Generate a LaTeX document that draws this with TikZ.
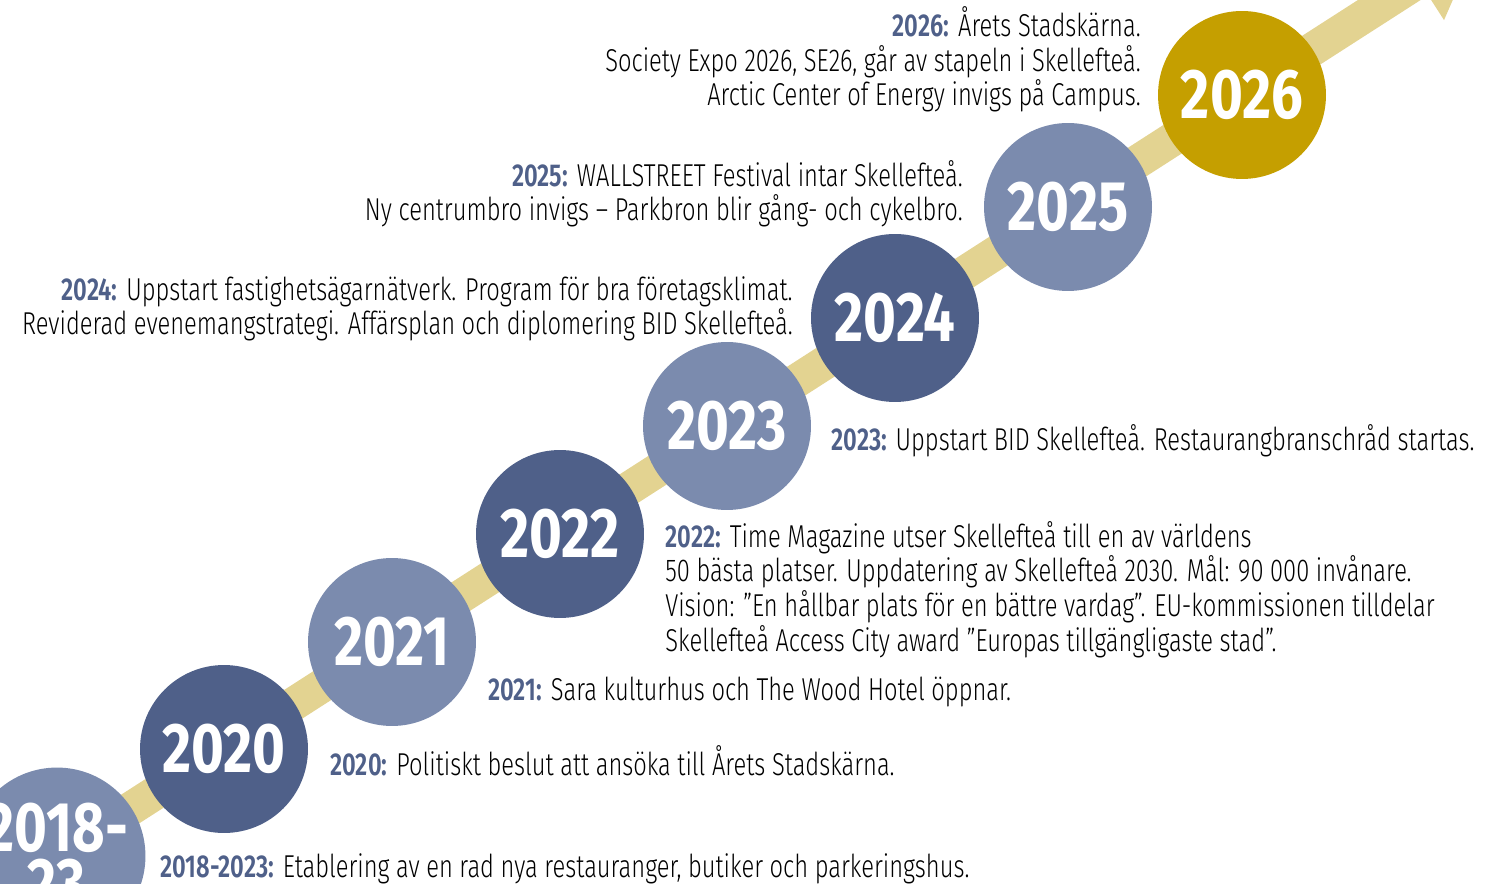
\documentclass[tikz,border=0pt]{standalone}
\usepackage{fontspec}
\setmainfont{Fira Sans Light}[FakeStretch=0.75,BoldFont={Fira Sans SemiBold}]
\newfontfamily\ballfont{Fira Sans}[FakeStretch=0.8]
\usetikzlibrary{arrows.meta}
\definecolor{darkyr}{HTML}{4F6089}
\definecolor{lightyr}{HTML}{7B8BAE}
\definecolor{goldyr}{HTML}{C59F00}
\definecolor{band}{HTML}{E3D391}
\newcommand{\yr}[1]{{\bfseries\color{darkyr}#1}}
\tikzset{
  yearball/.style={circle,minimum size=3.36cm,inner sep=0,text=white,
    font=\ballfont\fontsize{40}{32}\selectfont\bfseries,align=center},
  note/.style={inner sep=0,font=\fontsize{18}{19.7}\selectfont}
}
\begin{document}
\begin{tikzpicture}[x=0.02cm,y=-0.02cm]
		\useasboundingbox (0,0) rectangle (1500,884);
		\clip (0,0) rectangle (1500,884);
		% band with arrow head
		\coordinate (tail) at (-69,937);
		\coordinate (tip) at (1478,-57);
		\draw[band,line width=19.3pt,-{Triangle[width=50pt,length=40pt]}] (tail)--(tip);
		% year balls
		\node[yearball,fill=lightyr] (c2018) at (57,856){2018-\\23};
		\node[yearball,fill=darkyr] (c2020) at (224,749){2020};
		\node[yearball,fill=lightyr] (c2021) at (392,642){2021};
		\node[yearball,fill=darkyr] (c2022) at (560,534){2022};
		\node[yearball,fill=lightyr] (c2023) at (727,426){2023};
		\node[yearball,fill=darkyr] (c2024) at (895,318){2024};
		\node[yearball,fill=lightyr] (c2025) at (1068,207){2025};
		\node[yearball,fill=goldyr] (c2026) at (1242,95){2026};
		% notes (base = last line)
		\node[note,anchor=base east,align=right] (t2026) at (1141,106){\yr{2026:} Årets Stadskärna.\\Society Expo 2026, SE26, går av stapeln i Skellefteå.\\Arctic Center of Energy invigs på Campus.};
		\node[note,anchor=base east,align=right] (t2025) at (963,221){\yr{2025:} WALLSTREET Festival intar Skellefteå.\\Ny centrumbro invigs – Parkbron blir gång- och cykelbro.};
		\node[note,anchor=base east,align=right] (t2024) at (793,335){\yr{2024:} Uppstart fastighetsägarnätverk. Program för bra företagsklimat.\\Reviderad evenemangstrategi. Affärsplan och diplomering BID Skellefteå.};
		\node[note,anchor=base west,align=left] (t2023) at (831,451){\yr{2023:} Uppstart BID Skellefteå. Restaurangbranschråd startas.};
		\node[note,anchor=base west,align=left] (t2022) at (665,651){\yr{2022:} Time Magazine utser Skellefteå till en av världens\\50 bästa platser. Uppdatering av Skellefteå 2030. Mål: 90 000 invånare.\\Vision: ”En hållbar plats för en bättre vardag”. EU-kommissionen tilldelar\\Skellefteå Access City award ”Europas tillgängligaste stad”.};
		\node[note,anchor=base west,align=left] (t2021) at (488,700){\yr{2021:} Sara kulturhus och The Wood Hotel öppnar.};
		\node[note,anchor=base west,align=left] (t2020) at (330,775){\yr{2020:} Politiskt beslut att ansöka till Årets Stadskärna.};
		\node[note,anchor=base west,align=left] (t2018) at (160,877){\yr{2018-2023:} Etablering av en rad nya restauranger, butiker och parkeringshus.};
\end{tikzpicture}
\end{document}
